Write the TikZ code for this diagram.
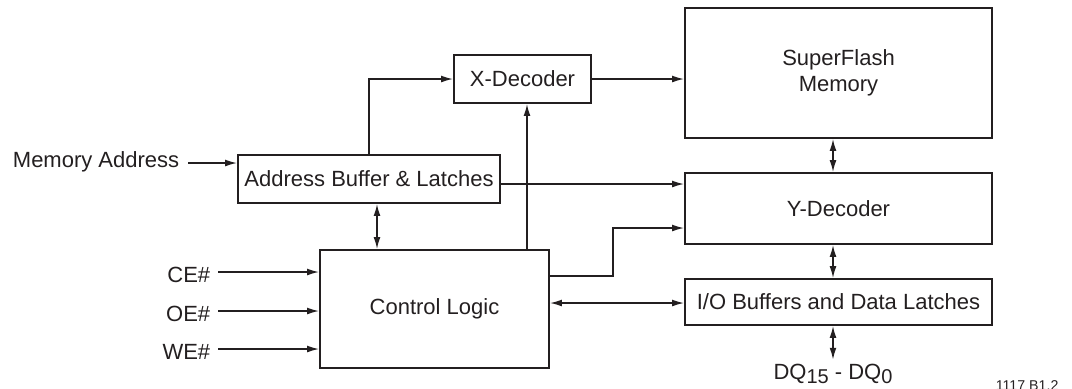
\documentclass[tikz,border=0pt]{standalone}
\usepackage{fontspec}
\setmainfont{Liberation Sans}
\usetikzlibrary{arrows.meta}
\definecolor{ink}{HTML}{231F20}

\tikzstyle{block}=[draw=ink,line width=0.8pt,inner sep=0pt,text=ink,font=\fontsize{11}{13}\selectfont]
\tikzstyle{signal}=[text=ink,inner sep=0pt,font=\fontsize{11}{13}\selectfont]

\begin{document}
\begin{tikzpicture}[x=0.5pt,y=-0.5pt,>={Latex[length=6pt,width=3.4pt]},line width=0.8pt,draw=ink]
  \useasboundingbox (0,0) rectangle (1072,388);
  % blocks
  \node (flash) [block,minimum width=153.5pt,minimum height=65pt,align=center] at (838.5,73) {SuperFlash\\Memory};
  \node (xdec) [block,minimum width=68.5pt,minimum height=24pt] at (522.5,79) {X-Decoder};
  \node (addr) [block,minimum width=131pt,minimum height=24pt] at (369,179) {Address Buffer \& Latches};
  \node (ydec) [block,minimum width=153.5pt,minimum height=35.5pt] at (838.5,208.5) {Y-Decoder};
  \node (ctrl) [block,minimum width=114.5pt,minimum height=59pt] at (434.5,309) {Control Logic};
  \node (io) [block,minimum width=153.5pt,minimum height=23pt] at (838.5,302) {I/O Buffers and Data Latches};
  % signals
  \node (mem) [signal,anchor=base east] at (180,167) {Memory Address};
  \foreach \nm/\txt/\yy in {ce/CE\#/282,oe/OE\#/321,we/WE\#/359}{
    \node (\nm) [signal,anchor=base east] at (211,\yy) {\txt};
    \draw[->] ([xshift=3.5pt,yshift=5pt]\nm.base east) -- ([yshift=5pt]\nm.base east -| ctrl.west);
  }
  \node (dq) [signal,inner sep=1.5pt,anchor=base] at (833,379) {DQ\raisebox{-0.35ex}{\fontsize{10}{12}\selectfont 15} - DQ\raisebox{-0.35ex}{\fontsize{10}{12}\selectfont 0}};
  \node (tag) [signal,anchor=base west,font=\fontsize{7.1}{8}\selectfont] at (995,390) {1117 B1.2};
  % connectors
  \draw[->] ([xshift=4pt,yshift=2pt]mem.base east) -- ([yshift=2pt]mem.base east -| addr.west);
  \draw[->] (addr.north) |- (xdec.west);
  \draw[->] (xdec.east) -- (xdec.east -| flash.west);
  \draw[->] ([yshift=-2.5pt]addr.east) -- ([yshift=-2.5pt]addr.east -| ydec.west);
  \draw[<->] ([xshift=4pt]addr.south) -- ([xshift=4pt]addr.south |- ctrl.north);
  \draw[->] ([xshift=2.25pt]xdec.south |- ctrl.north) -- ([xshift=2.25pt]xdec.south);
  \draw[->] ([yshift=16.5pt]ctrl.east) -- ++(63,0) |- ([yshift=-9.75pt]ydec.west);
  \draw[<->] ([yshift=-0.5pt]ctrl.east |- io.west) -- ([yshift=-0.5pt]io.west);
  \draw[<->] ([xshift=-2.75pt]flash.south) -- ([xshift=-2.75pt]ydec.north);
  \draw[<->] ([xshift=-2.75pt]ydec.south) -- ([xshift=-2.75pt]io.north);
  \draw[<->] (dq.north) -- (dq.north |- io.south);
\end{tikzpicture}
\end{document}
